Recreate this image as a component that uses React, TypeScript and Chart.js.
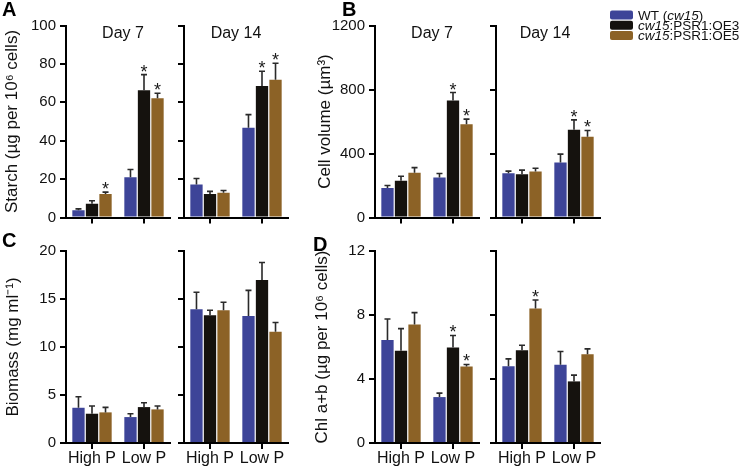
import React, { useEffect, useRef } from "react";
import { Chart, registerables } from "chart.js";

Chart.register(...registerables);

const FONT = "'Liberation Sans', Arial, Helvetica, sans-serif";

// ---------- data ----------
const groups = ["High P", "Low P"];
const seriesNames = ["WT (cw15)", "cw15:PSR1:OE3", "cw15:PSR1:OE5"];
const seriesColors = ["#3d4498", "#15120e", "#8c6226"];

// Starch (A)
const starchD7Wt = [3.8, 21.0];
const starchD7Oe3 = [7.1, 66.3];
const starchD7Oe5 = [12.2, 62.1];
const starchD7Err = [[0.7, 4.0], [1.6, 8.1], [1.0, 2.6]];
const starchD7Sig = [[false, false], [false, true], [true, true]];

const starchD14Wt = [17.2, 46.8];
const starchD14Oe3 = [12.3, 68.5];
const starchD14Oe5 = [12.9, 71.7];
const starchD14Err = [[3.1, 6.8], [1.3, 7.7], [1.2, 8.6]];
const starchD14Sig = [[false, false], [false, true], [false, true]];

// Cell volume (B)
const volD7Wt = [185, 250];
const volD7Oe3 = [229, 731];
const volD7Oe5 = [279, 583];
const volD7Err = [[15, 25], [29, 50], [33, 32]];
const volD7Sig = [[false, false], [false, true], [false, true]];

const volD14Wt = [277, 344];
const volD14Oe3 = [271, 548];
const volD14Oe5 = [288, 504];
const volD14Err = [[13, 52], [25, 62], [20, 40]];
const volD14Sig = [[false, false], [false, true], [false, true]];

// Biomass (C)
const bioD7Wt = [3.67, 2.7];
const bioD7Oe3 = [3.05, 3.74];
const bioD7Oe5 = [3.19, 3.5];
const bioD7Err = [[1.15, 0.35], [0.8, 0.45], [0.52, 0.35]];
const bioD7Sig = [[false, false], [false, false], [false, false]];

const bioD14Wt = [13.93, 13.24];
const bioD14Oe3 = [13.3, 16.98];
const bioD14Oe5 = [13.83, 11.6];
const bioD14Err = [[1.77, 2.66], [0.53, 1.82], [0.83, 0.95]];
const bioD14Sig = [[false, false], [false, false], [false, false]];

// Chl a+b (D)
const chlD7Wt = [6.44, 2.87];
const chlD7Oe3 = [5.76, 5.97];
const chlD7Oe5 = [7.4, 4.78];
const chlD7Err = [[1.31, 0.25], [1.39, 0.75], [0.75, 0.13]];
const chlD7Sig = [[false, false], [false, true], [false, true]];

const chlD14Wt = [4.8, 4.89];
const chlD14Oe3 = [5.8, 3.85];
const chlD14Oe5 = [8.4, 5.55];
const chlD14Err = [[0.46, 0.83], [0.31, 0.39], [0.54, 0.33]];
const chlD14Sig = [[false, false], [false, false], [true, false]];

// ---------- layout ----------
type Area = { left: number; right: number; top: number; bottom: number };
type Panel = {
  means: number[][];
  errs: number[][];
  sig: boolean[][];
  yMax: number;
  yStep: number;
  title: string | null;
  titleX: number;
  showX: boolean;
  area: Area;
  day: string | null;
  dayDx: number;
};

const rowTop1 = 25.5, rowBot1 = 217.5, rowTop2 = 251, rowBot2 = 443;
const colA7 = [66, 170], colA14 = [184, 288], colB7 = [375, 479], colB14 = [496, 600];

const panels: Panel[] = [
  { means: [starchD7Wt, starchD7Oe3, starchD7Oe5], errs: starchD7Err, sig: starchD7Sig, yMax: 100, yStep: 20,
    title: "Starch (µg per 10⁶ cells)", titleX: 12, showX: false,
    area: { left: colA7[0], right: colA7[1], top: rowTop1, bottom: rowBot1 }, day: "Day 7", dayDx: 5 },
  { means: [starchD14Wt, starchD14Oe3, starchD14Oe5], errs: starchD14Err, sig: starchD14Sig, yMax: 100, yStep: 20,
    title: null, titleX: 0, showX: false,
    area: { left: colA14[0], right: colA14[1], top: rowTop1, bottom: rowBot1 }, day: "Day 14", dayDx: 0 },
  { means: [volD7Wt, volD7Oe3, volD7Oe5], errs: volD7Err, sig: volD7Sig, yMax: 1200, yStep: 400,
    title: "Cell volume (µm³)", titleX: 325, showX: false,
    area: { left: colB7[0], right: colB7[1], top: rowTop1, bottom: rowBot1 }, day: "Day 7", dayDx: 5 },
  { means: [volD14Wt, volD14Oe3, volD14Oe5], errs: volD14Err, sig: volD14Sig, yMax: 1200, yStep: 400,
    title: null, titleX: 0, showX: false,
    area: { left: colB14[0], right: colB14[1], top: rowTop1, bottom: rowBot1 }, day: "Day 14", dayDx: -3 },
  { means: [bioD7Wt, bioD7Oe3, bioD7Oe5], errs: bioD7Err, sig: bioD7Sig, yMax: 20, yStep: 5,
    title: "Biomass (mg ml⁻¹)", titleX: 13, showX: true,
    area: { left: colA7[0], right: colA7[1], top: rowTop2, bottom: rowBot2 }, day: null, dayDx: 0 },
  { means: [bioD14Wt, bioD14Oe3, bioD14Oe5], errs: bioD14Err, sig: bioD14Sig, yMax: 20, yStep: 5,
    title: null, titleX: 0, showX: true,
    area: { left: colA14[0], right: colA14[1], top: rowTop2, bottom: rowBot2 }, day: null, dayDx: 0 },
  { means: [chlD7Wt, chlD7Oe3, chlD7Oe5], errs: chlD7Err, sig: chlD7Sig, yMax: 12, yStep: 4,
    title: "Chl a+b (µg per 10⁶ cells)", titleX: 322, showX: true,
    area: { left: colB7[0], right: colB7[1], top: rowTop2, bottom: rowBot2 }, day: null, dayDx: 0 },
  { means: [chlD14Wt, chlD14Oe3, chlD14Oe5], errs: chlD14Err, sig: chlD14Sig, yMax: 12, yStep: 4,
    title: null, titleX: 0, showX: true,
    area: { left: colB14[0], right: colB14[1], top: rowTop2, bottom: rowBot2 }, day: null, dayDx: 0 },
];

const W = 740, H = 475;
const TITLE_SIZE = 17;
const TITLE_LH = 1.2;

// ---------- plugins ----------
const errorBarPlugin = {
  id: "errorBars",
  afterDatasetsDraw(chart: any, _args: any, opts: any) {
    const p: Panel = opts.panel;
    if (!p) return;
    const ctx = chart.ctx;
    const yScale = chart.scales.y;
    ctx.save();
    p.means.forEach((vals, i) => {
      const meta = chart.getDatasetMeta(i);
      meta.data.forEach((el: any, j: number) => {
        const x = el.x;
        const yTop = el.y;
        const yErr = yScale.getPixelForValue(vals[j] + p.errs[i][j]);
        ctx.strokeStyle = "#2a2a2a";
        ctx.lineWidth = 1.6;
        ctx.beginPath();
        ctx.moveTo(x, yTop);
        ctx.lineTo(x, yErr);
        ctx.moveTo(x - 3, yErr);
        ctx.lineTo(x + 3, yErr);
        ctx.stroke();
        if (p.sig[i][j]) {
          ctx.fillStyle = "#1a1a1a";
          ctx.font = `18px ${FONT}`;
          ctx.textAlign = "center";
          ctx.textBaseline = "alphabetic";
          const m = ctx.measureText("*");
          const desc = m.actualBoundingBoxDescent || -7;
          ctx.fillText("*", x, yErr - 3 - desc);
        }
      });
    });
    ctx.restore();
  },
};

const dayLabelPlugin = {
  id: "dayLabel",
  afterDraw(chart: any, _args: any, opts: any) {
    const p: Panel = opts.panel;
    if (!p || !p.day) return;
    const ctx = chart.ctx;
    const { left, right, top } = chart.chartArea;
    ctx.save();
    ctx.fillStyle = "#111";
    ctx.font = `16px ${FONT}`;
    ctx.textAlign = "center";
    ctx.textBaseline = "alphabetic";
    ctx.fillText(p.day, (left + right) / 2 + p.dayDx, top + 12.3);
    ctx.restore();
  },
};

const lettersPlugin = {
  id: "panelLetters",
  afterDraw(chart: any, _args: any, opts: any) {
    if (!opts.show) return;
    const ctx = chart.ctx;
    ctx.save();
    ctx.fillStyle = "#000";
    ctx.font = `bold 20px ${FONT}`;
    ctx.textAlign = "left";
    ctx.textBaseline = "alphabetic";
    ctx.fillText("A", 2, 16);
    ctx.fillText("B", 342, 16);
    ctx.fillText("C", 2, 246.5);
    ctx.fillText("D", 313, 250.5);
    ctx.restore();
  },
};

const legendPlugin = {
  id: "customLegend",
  afterDraw(chart: any, _args: any, opts: any) {
    if (!opts.show) return;
    const ctx = chart.ctx;
    ctx.save();
    const parts: [string, boolean][][] = [
      [["WT (", false], ["cw15", true], [")", false]],
      [["cw15", true], [":PSR1:OE3", false]],
      [["cw15", true], [":PSR1:OE5", false]],
    ];
    parts.forEach((segs, i) => {
      const top = 10.5 + i * 10.2;
      ctx.fillStyle = seriesColors[i];
      ctx.beginPath();
      if ((ctx as any).roundRect) (ctx as any).roundRect(610, top, 23, 9, 2);
      else ctx.rect(610, top, 23, 9);
      ctx.fill();
      let x = 638;
      ctx.fillStyle = "#111";
      ctx.textAlign = "left";
      ctx.textBaseline = "alphabetic";
      segs.forEach(([t, it]) => {
        ctx.font = `${it ? "italic " : ""}13.5px ${FONT}`;
        ctx.fillText(t, x, top + 9.2);
        x += ctx.measureText(t).width;
      });
    });
    ctx.restore();
  },
};

function buildConfig(p: Panel, idx: number): any {
  const showY = p.title !== null;
  const lh = TITLE_SIZE * TITLE_LH;
  const padLeft = showY ? p.titleX - lh / 2 : p.area.left - 8;
  const yWidth = p.area.left - padLeft;
  const xHeight = H - p.area.bottom;
  return {
    type: "bar",
    data: {
      labels: groups,
      datasets: p.means.map((vals, i) => ({
        label: seriesNames[i],
        data: vals,
        backgroundColor: seriesColors[i],
        borderWidth: 0,
        categoryPercentage: 0.78,
        barPercentage: 0.91,
      })),
    },
    options: {
      responsive: false,
      maintainAspectRatio: false,
      animation: false,
      devicePixelRatio: 1,
      layout: {
        padding: { left: padLeft, right: W - p.area.right, top: p.area.top, bottom: 0 },
      },
      plugins: {
        legend: { display: false },
        tooltip: { enabled: false },
        title: { display: false },
        errorBars: { panel: p },
        dayLabel: { panel: p },
        panelLetters: { show: idx === 0 },
        customLegend: { show: idx === 3 },
      },
      scales: {
        x: {
          type: "category",
          offset: true,
          grid: {
            offset: false,
            drawOnChartArea: false,
            drawTicks: true,
            tickLength: 6,
            lineWidth: 2,
            color: "#000",
          },
          border: { display: true, color: "#000", width: 2 },
          ticks: {
            display: p.showX,
            padding: 0,
            maxRotation: 0,
            autoSkip: false,
            color: "#111",
            font: { family: FONT, size: 16 },
          },
          afterFit: (s: any) => {
            s.height = xHeight;
          },
        },
        y: {
          min: 0,
          max: p.yMax,
          grid: {
            drawOnChartArea: false,
            drawTicks: true,
            tickLength: 6,
            lineWidth: 2,
            color: "#000",
          },
          border: { display: true, color: "#000", width: 2 },
          ticks: {
            display: showY,
            stepSize: p.yStep,
            padding: 4,
            color: "#111",
            font: { family: FONT, size: 15 },
            callback: (v: any) => String(v),
          },
          title: {
            display: showY,
            text: p.title || "",
            color: "#111",
            padding: { top: 0, bottom: 0 },
            font: { family: FONT, size: TITLE_SIZE, lineHeight: TITLE_LH },
          },
          afterFit: (s: any) => {
            s.width = yWidth;
          },
        },
      },
    },
    plugins: [errorBarPlugin, dayLabelPlugin, lettersPlugin, legendPlugin],
  };
}

export default function App() {
  const refs = useRef<(HTMLCanvasElement | null)[]>([]);
  useEffect(() => {
    const charts = panels.map((p, i) => new Chart(refs.current[i] as HTMLCanvasElement, buildConfig(p, i)));
    return () => {
      charts.forEach((c) => c.destroy());
    };
  }, []);
  return (
    <div style={{ position: "absolute", left: 0, top: 0, width: W, height: H, background: "#fff", overflow: "hidden" }}>
      {panels.map((_p, i) => (
        <canvas
          key={i}
          ref={(el) => {
            refs.current[i] = el;
          }}
          width={W}
          height={H}
          style={{ position: "absolute", left: 0, top: 0, width: W, height: H }}
        />
      ))}
    </div>
  );
}
